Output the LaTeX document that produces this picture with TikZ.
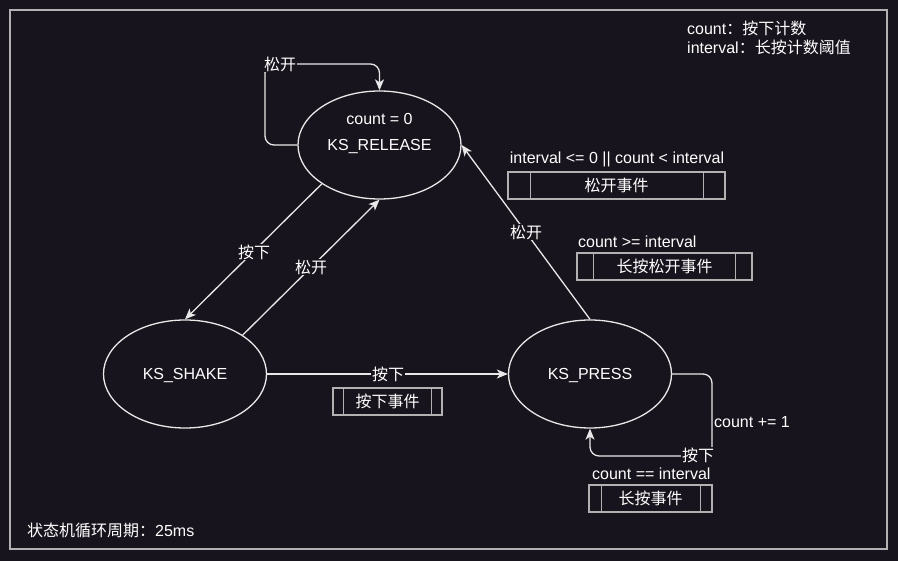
\documentclass[tikz,border=0pt]{standalone}
\usepackage{fontspec}
\setmainfont{Liberation Sans}
\newfontfamily\cjk{Noto Sans CJK SC}
\newcommand\zh[1]{{\cjk #1}}
\usetikzlibrary{arrows.meta,shapes.geometric,calc}
\definecolor{bg}{RGB}{24,20,29}
\definecolor{ln}{RGB}{232,232,232}
\definecolor{bx}{RGB}{178,178,178}
\begin{document}
\begin{tikzpicture}[x=1pt,y=-1pt,
  every node/.style={font=\fontsize{16}{19}\selectfont, text=white, inner sep=1pt},
  st/.style={ellipse, draw=ln, line width=1.3pt, minimum width=163pt, minimum height=108pt, inner sep=0pt},
  edge/.style={draw=ln, line width=1.3pt, -{Stealth[length=11pt,width=9pt,inset=3pt]}},
  lbl/.style={fill=bg, inner sep=1pt},
  proc/.style={draw=bx, line width=1.3pt, minimum height=27pt, inner sep=0pt},
  pline/.style={draw=bx, line width=1.3pt}]
\fill[bg] (0,0) rectangle (898,561);
\useasboundingbox (0,0) rectangle (898,561);
\draw[bx, line width=1.3pt] (10,10) rectangle (887,549);

% states
\node[st] (rel) at (379.5,145) {};
\node (relc) at (379.5,119) {count = 0};
\node (reln) at (379.5,146.5) {KS\_RELEASE};
\node[st] (shake) at (185,374) {};
\node (shaken) at (185,375.5) {KS\_SHAKE};
\node[st] (press) at (590,374) {};
\node (pressn) at (590,375.5) {KS\_PRESS};

% legend
\node[anchor=west] (leg1) at (686,28) {count\zh{：按下计数}};
\node[anchor=west] (leg2) at (686,47) {interval\zh{：长按计数阈值}};
\node[anchor=west] (cyc) at (26,530) {\zh{状态机循环周期：}25ms};

% self loop release
\coordinate (r1) at (265,145);
\coordinate (r2) at (265,64);
\coordinate (r3) at (379.5,64);
\draw[edge, rounded corners=9pt] (rel.west) -- (r1) -- (r2) -- (r3) -- (rel.north);
\node[lbl] (lr) at (280,64) {\zh{松开}};

% release -> shake
\draw[edge] (rel.214.5) -- (shake.north);
\node[lbl] (l1) at (254,252) {\zh{按下}};
% shake -> release
\draw[edge] (shake.34) -- (rel.south);
\node[lbl] (l2) at (311,267) {\zh{松开}};
% shake -> press
\draw[edge] (shake.east) -- (press.west);
\node[lbl] (l3) at (388,374) {\zh{按下}};
% press -> release
\draw[edge] (press.north) -- (rel.east);
\node[lbl] (l4) at (526,232) {\zh{松开}};

% self loop press
\coordinate (p1) at (712,374);
\coordinate (p2) at (712,456);
\coordinate (p3) at (590,456);
\draw[edge, rounded corners=9pt] (press.east) -- (p1) -- (p2) -- (p3) -- (press.south);
\node[lbl] (l5) at (698,455) {\zh{按下}};
\node[anchor=west] (l6) at (713,422) {count += 1};

% process boxes
\node (t1) at (617,159.5) {interval <= 0 || count < interval};
\node[proc, minimum width=217pt] (b1) at (616.5,185.5) {\zh{松开事件}};
\draw[pline] ($(b1.north west)+(23,0)$) -- ($(b1.south west)+(23,0)$);
\draw[pline] ($(b1.north east)+(-22,0)$) -- ($(b1.south east)+(-22,0)$);

\node[anchor=west] (t2) at (577,241.5) {count >= interval};
\node[proc, minimum width=175pt] (b2) at (664.5,266.5) {\zh{长按松开事件}};
\draw[pline] ($(b2.north west)+(17,0)$) -- ($(b2.south west)+(17,0)$);
\draw[pline] ($(b2.north east)+(-17,0)$) -- ($(b2.south east)+(-17,0)$);

\node[proc, minimum width=109pt] (b3) at (387.5,401.5) {\zh{按下事件}};
\draw[pline] ($(b3.north west)+(11,0)$) -- ($(b3.south west)+(11,0)$);
\draw[pline] ($(b3.north east)+(-11,0)$) -- ($(b3.south east)+(-11,0)$);

\node[anchor=west] (t4) at (591,473.5) {count == interval};
\node[proc, minimum width=123pt] (b4) at (650.5,498.5) {\zh{长按事件}};
\draw[pline] ($(b4.north west)+(13,0)$) -- ($(b4.south west)+(13,0)$);
\draw[pline] ($(b4.north east)+(-12,0)$) -- ($(b4.south east)+(-12,0)$);
\end{tikzpicture}
\end{document}
